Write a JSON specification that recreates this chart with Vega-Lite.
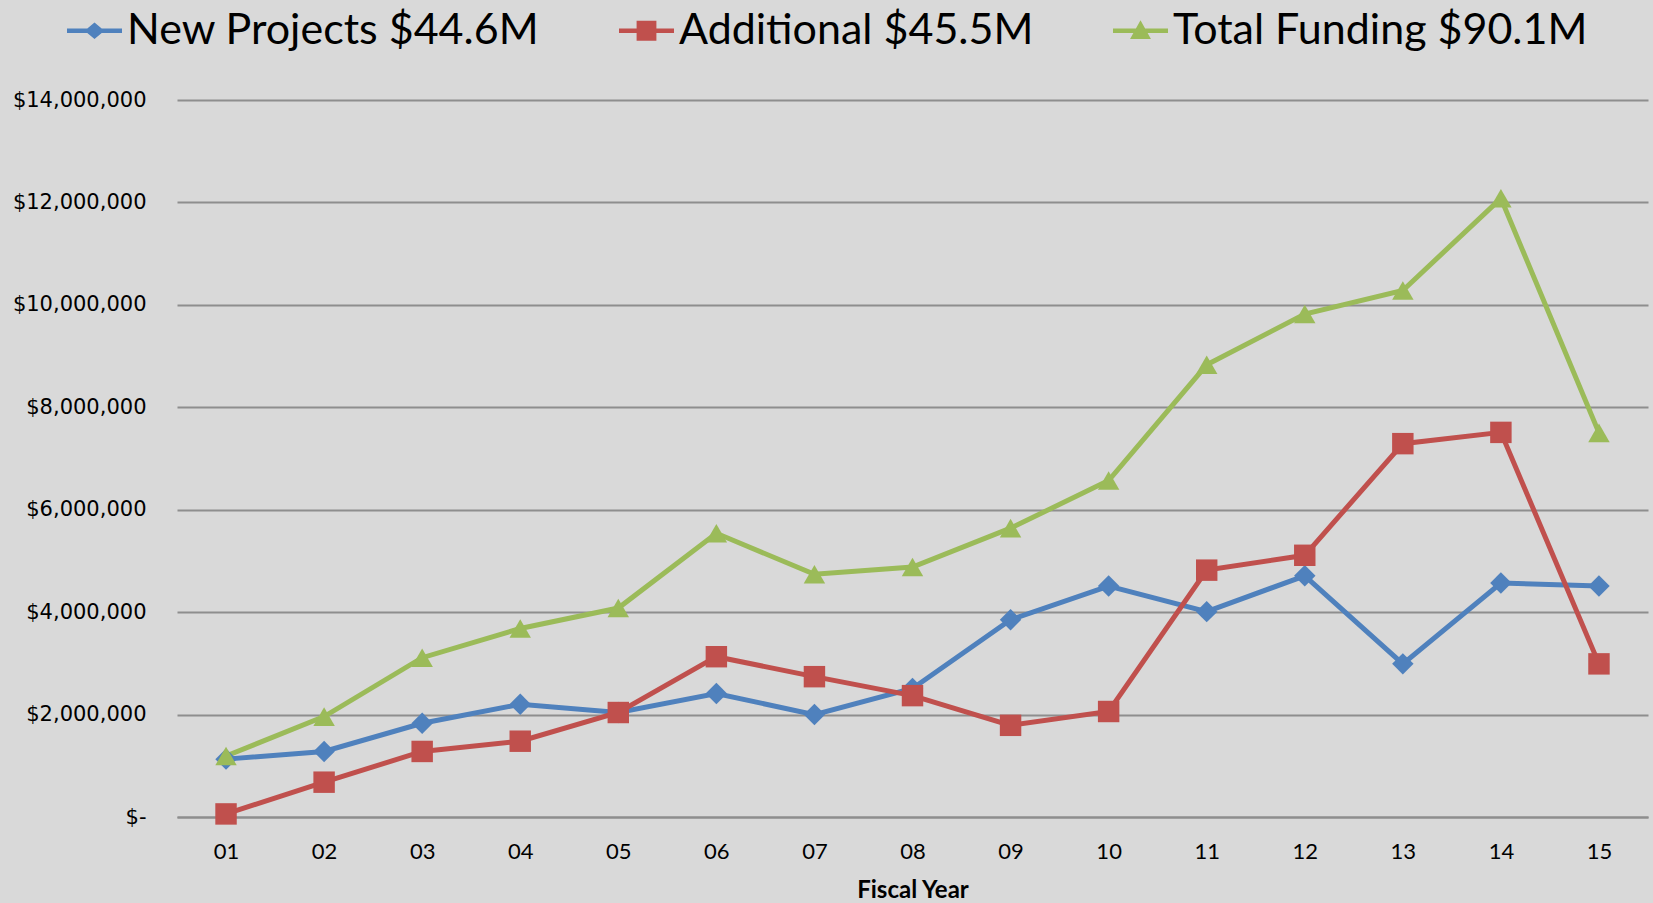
{
  "$schema": "https://vega.github.io/schema/vega-lite/v6.json",
  "width": 1471,
  "height": 717,
  "autosize": {"type": "none"},
  "padding": {"left": 177, "top": 100, "right": 5, "bottom": 86},
  "background": "#D9D9D9",
  "config": {
    "view": {"stroke": null, "fill": "#D9D9D9"},
    "font": "Lato"
  },
  "data": {
    "values": [
      {"fy": "01", "series": "New Projects $44.6M", "value": 1130000},
      {"fy": "02", "series": "New Projects $44.6M", "value": 1280000},
      {"fy": "03", "series": "New Projects $44.6M", "value": 1830000},
      {"fy": "04", "series": "New Projects $44.6M", "value": 2200000},
      {"fy": "05", "series": "New Projects $44.6M", "value": 2040000},
      {"fy": "06", "series": "New Projects $44.6M", "value": 2410000},
      {"fy": "07", "series": "New Projects $44.6M", "value": 2000000},
      {"fy": "08", "series": "New Projects $44.6M", "value": 2510000},
      {"fy": "09", "series": "New Projects $44.6M", "value": 3850000},
      {"fy": "10", "series": "New Projects $44.6M", "value": 4510000},
      {"fy": "11", "series": "New Projects $44.6M", "value": 4010000},
      {"fy": "12", "series": "New Projects $44.6M", "value": 4710000},
      {"fy": "13", "series": "New Projects $44.6M", "value": 2990000},
      {"fy": "14", "series": "New Projects $44.6M", "value": 4570000},
      {"fy": "15", "series": "New Projects $44.6M", "value": 4510000},
      {"fy": "01", "series": "Additional $45.5M", "value": 60000},
      {"fy": "02", "series": "Additional $45.5M", "value": 680000},
      {"fy": "03", "series": "Additional $45.5M", "value": 1280000},
      {"fy": "04", "series": "Additional $45.5M", "value": 1480000},
      {"fy": "05", "series": "Additional $45.5M", "value": 2040000},
      {"fy": "06", "series": "Additional $45.5M", "value": 3130000},
      {"fy": "07", "series": "Additional $45.5M", "value": 2740000},
      {"fy": "08", "series": "Additional $45.5M", "value": 2370000},
      {"fy": "09", "series": "Additional $45.5M", "value": 1790000},
      {"fy": "10", "series": "Additional $45.5M", "value": 2060000},
      {"fy": "11", "series": "Additional $45.5M", "value": 4820000},
      {"fy": "12", "series": "Additional $45.5M", "value": 5110000},
      {"fy": "13", "series": "Additional $45.5M", "value": 7290000},
      {"fy": "14", "series": "Additional $45.5M", "value": 7510000},
      {"fy": "15", "series": "Additional $45.5M", "value": 2990000},
      {"fy": "01", "series": "Total Funding $90.1M", "value": 1190000},
      {"fy": "02", "series": "Total Funding $90.1M", "value": 1960000},
      {"fy": "03", "series": "Total Funding $90.1M", "value": 3110000},
      {"fy": "04", "series": "Total Funding $90.1M", "value": 3680000},
      {"fy": "05", "series": "Total Funding $90.1M", "value": 4080000},
      {"fy": "06", "series": "Total Funding $90.1M", "value": 5540000},
      {"fy": "07", "series": "Total Funding $90.1M", "value": 4740000},
      {"fy": "08", "series": "Total Funding $90.1M", "value": 4880000},
      {"fy": "09", "series": "Total Funding $90.1M", "value": 5640000},
      {"fy": "10", "series": "Total Funding $90.1M", "value": 6570000},
      {"fy": "11", "series": "Total Funding $90.1M", "value": 8830000},
      {"fy": "12", "series": "Total Funding $90.1M", "value": 9820000},
      {"fy": "13", "series": "Total Funding $90.1M", "value": 10280000},
      {"fy": "14", "series": "Total Funding $90.1M", "value": 12080000},
      {"fy": "15", "series": "Total Funding $90.1M", "value": 7500000}
    ]
  },
  "encoding": {
    "x": {
      "field": "fy",
      "type": "ordinal",
      "scale": {"type": "point", "padding": 0.5},
      "axis": {
        "title": "Fiscal Year",
        "titleFont": "Lato",
        "titleFontSize": 24,
        "titleFontWeight": "bold",
        "titleColor": "#000000",
        "titlePadding": 16,
        "labelAngle": 0,
        "labelFont": "Lato",
        "labelFontSize": 22,
        "labelColor": "#000000",
        "labelPadding": 24,
        "ticks": false,
        "domain": true,
        "domainColor": "#8E8E8E",
        "domainWidth": 2,
        "grid": false
      }
    },
    "y": {
      "field": "value",
      "type": "quantitative",
      "scale": {"domain": [0, 14000000], "nice": false},
      "axis": {
        "title": null,
        "values": [0, 2000000, 4000000, 6000000, 8000000, 10000000, 12000000, 14000000],
        "labelExpr": "datum.value == 0 ? '$-\u00a0\u00a0' : '$' + format(datum.value, ',')",
        "labelFont": "DejaVu Sans",
        "labelFontSize": 21,
        "labelColor": "#000000",
        "labelPadding": 31,
        "ticks": false,
        "domain": false,
        "grid": true,
        "gridColor": "#8E8E8E",
        "gridWidth": 2
      }
    },
    "color": {
      "field": "series",
      "type": "nominal",
      "scale": {
        "domain": ["New Projects $44.6M", "Additional $45.5M", "Total Funding $90.1M"],
        "range": ["#4F81BD", "#C0504D", "#9BBB59"]
      },
      "legend": null
    }
  },
  "resolve": {"scale": {"shape": "independent", "color": "independent"}},
  "layer": [
    {
      "mark": {"type": "line", "strokeWidth": 5},
      "encoding": {}
    },
    {
      "mark": {"type": "point", "filled": true, "opacity": 1, "size": 460},
      "encoding": {
        "shape": {
          "field": "series",
          "type": "nominal",
          "scale": {
            "domain": ["New Projects $44.6M", "Additional $45.5M", "Total Funding $90.1M"],
            "range": ["diamond", "square", "triangle-up"]
          },
          "legend": null
        }
      }
    },
    {
      "mark": {"type": "point", "filled": true, "opacity": 0, "size": 1},
      "encoding": {
        "color": {
          "field": "series",
          "type": "nominal",
          "scale": {
            "domain": ["New Projects $44.6M", "Additional $45.5M", "Total Funding $90.1M"],
            "range": ["#4F81BD", "#C0504D", "#9BBB59"]
          },
          "legend": {
            "title": null,
            "orient": "none",
            "legendX": -110,
            "legendY": -97,
            "direction": "horizontal",
            "columns": 3,
            "columnPadding": 79,
            "labelFont": "Lato",
            "labelFontSize": 43,
            "labelColor": "#000000",
            "labelOffset": 5,
            "labelLimit": 800,
            "symbolSize": 3025,
            "symbolStrokeWidth": 0,
            "symbolOpacity": 1
          }
        },
        "shape": {
          "field": "series",
          "type": "nominal",
          "scale": {
            "domain": ["New Projects $44.6M", "Additional $45.5M", "Total Funding $90.1M"],
            "range": [
              "M-1,-0.08L1,-0.08L1,0.08L-1,0.08Z M0,-0.3L0.36,0L0,0.3L-0.36,0Z",
              "M-1,-0.08L1,-0.08L1,0.08L-1,0.08Z M-0.36,-0.36L0.36,-0.36L0.36,0.36L-0.36,0.36Z",
              "M-1,-0.08L1,-0.08L1,0.08L-1,0.08Z M0,-0.38L0.38,0.3L-0.38,0.3Z"
            ]
          },
          "legend": {
            "title": null,
            "orient": "none",
            "legendX": -110,
            "legendY": -97,
            "direction": "horizontal",
            "columns": 3,
            "columnPadding": 79,
            "labelFont": "Lato",
            "labelFontSize": 43,
            "labelColor": "#000000",
            "labelOffset": 5,
            "labelLimit": 800,
            "symbolSize": 3025,
            "symbolStrokeWidth": 0,
            "symbolOpacity": 1
          }
        }
      }
    }
  ]
}
